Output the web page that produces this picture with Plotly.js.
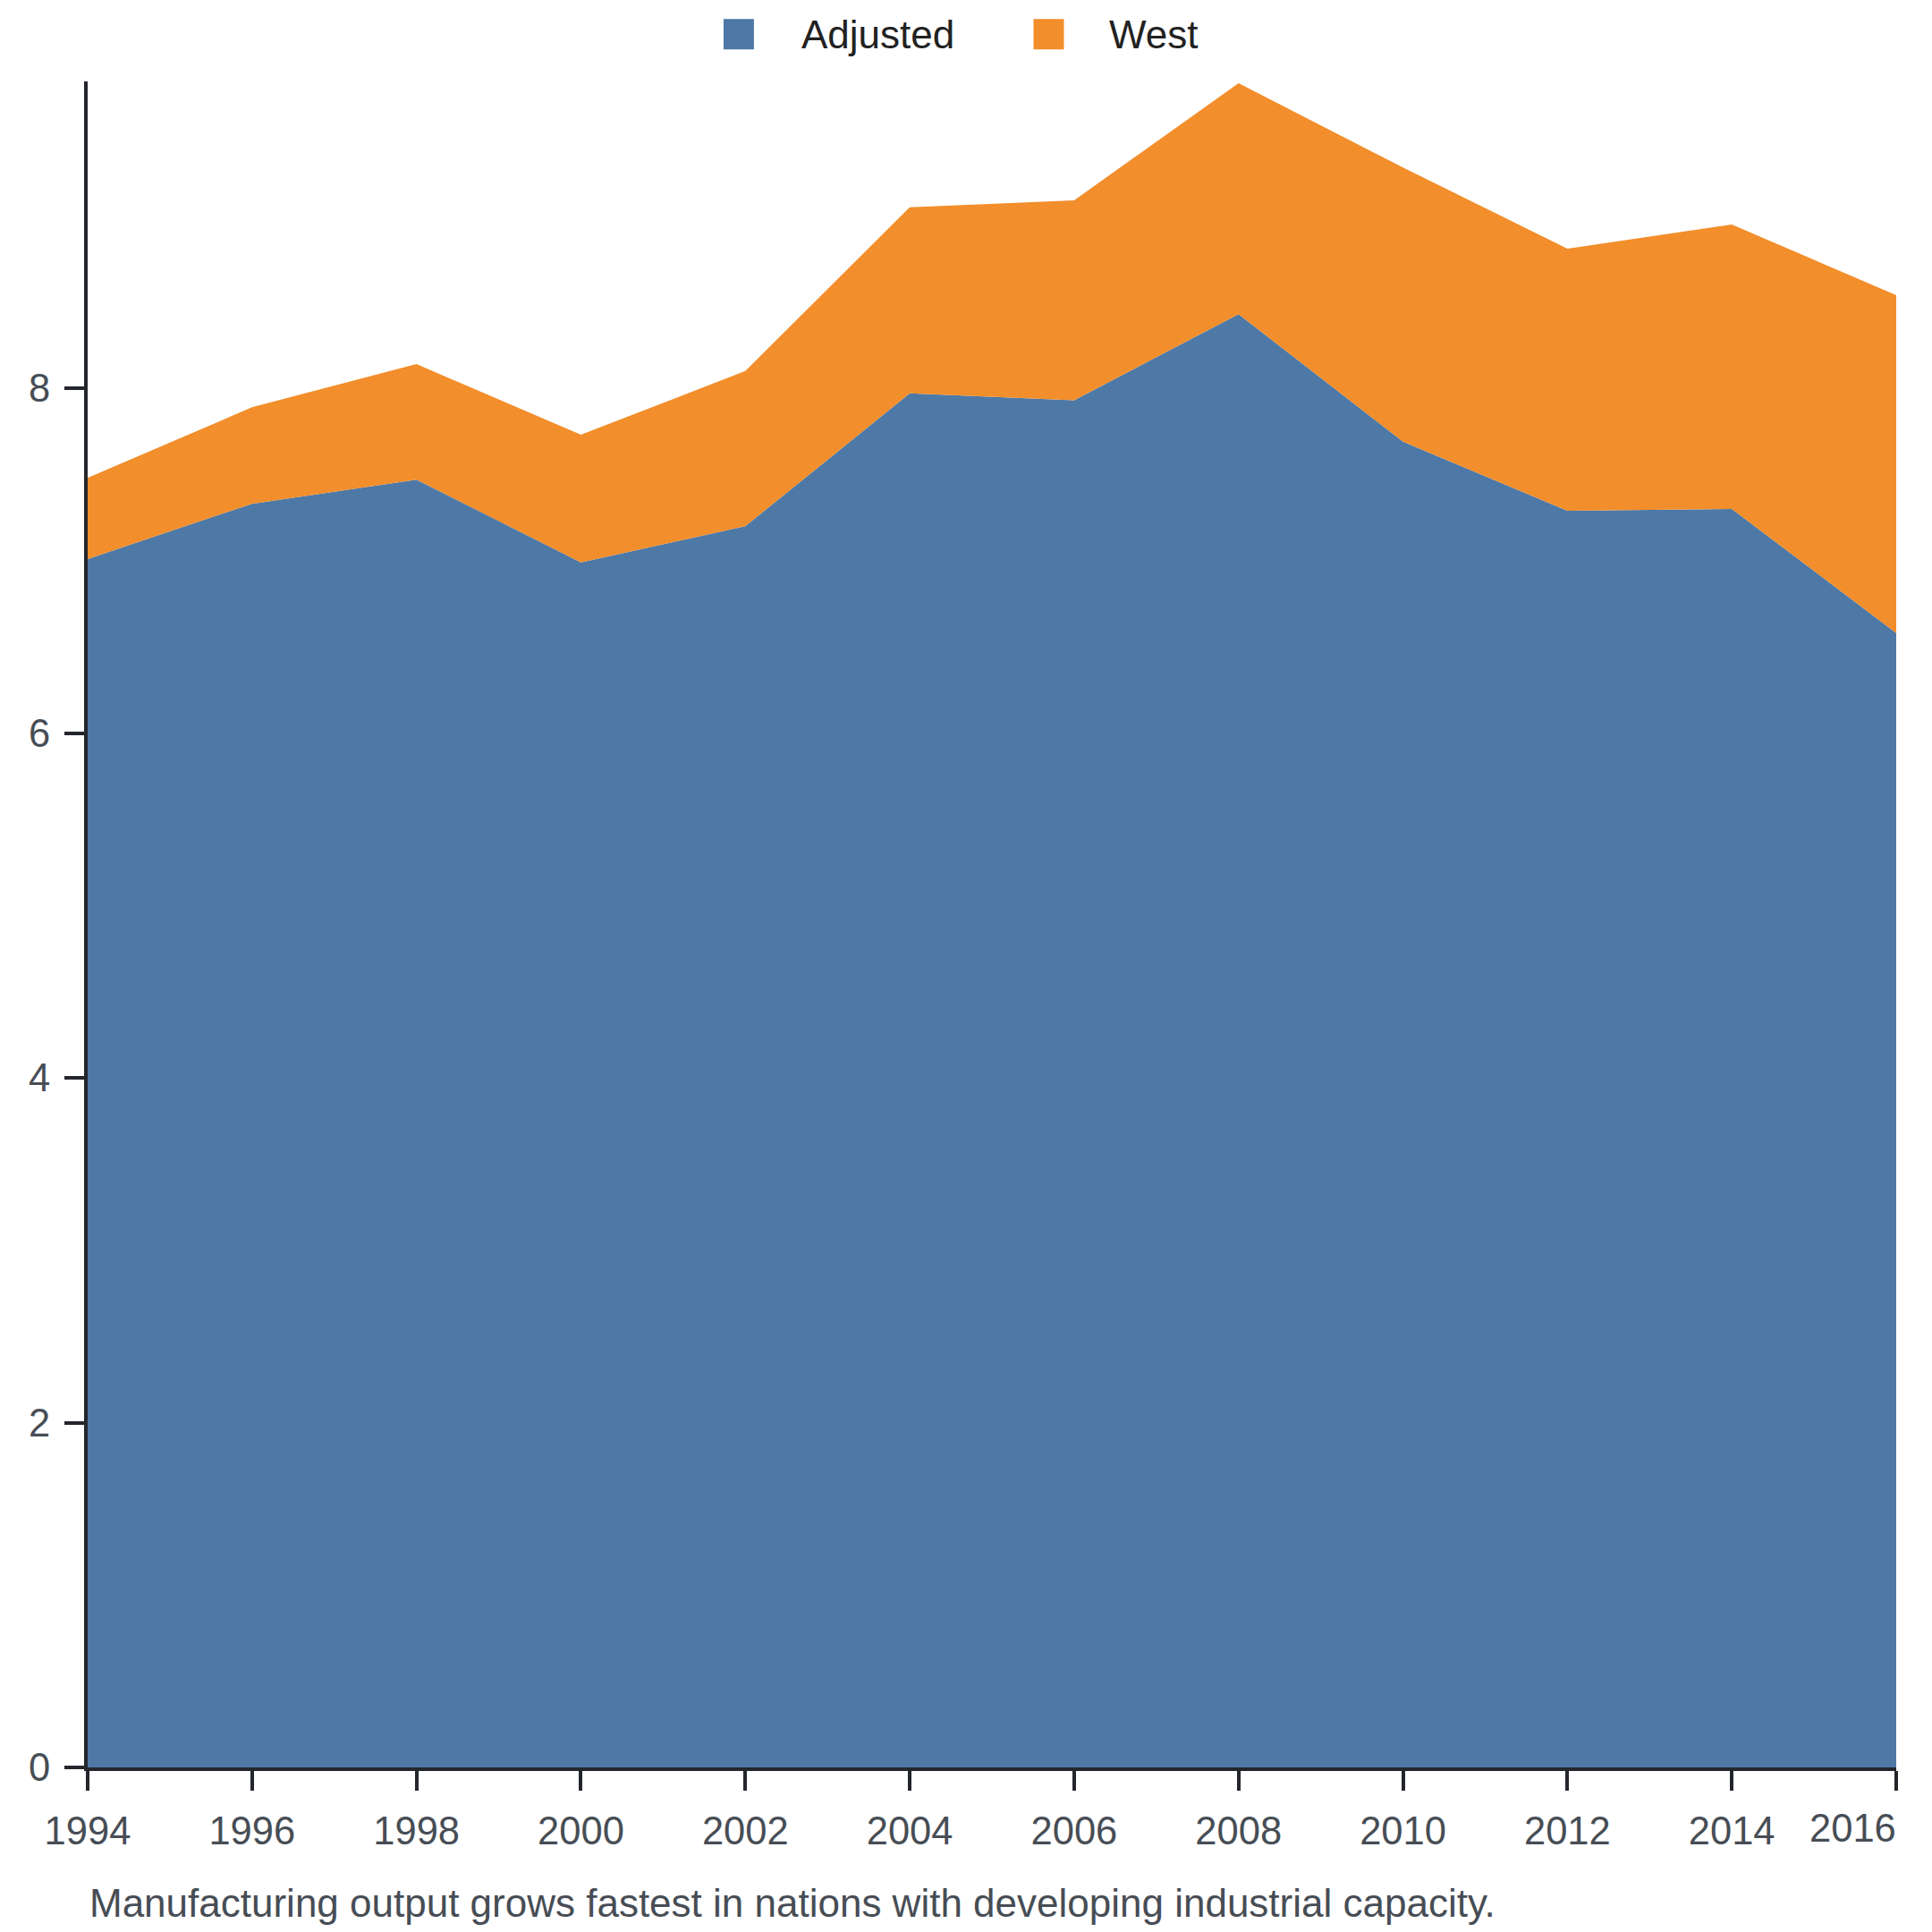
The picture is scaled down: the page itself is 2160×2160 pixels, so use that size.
<!DOCTYPE html>
<html>
<head>
<meta charset="utf-8">
<script src="https://cdn.plot.ly/plotly-3.0.1.min.js"></script>
<style>
  html, body { margin: 0; padding: 0; background: #fff; }
  #chart { width: 2160px; height: 2160px; }
</style>
</head>
<body>
<div id="chart"></div>
<script>
const years = [1994, 1996, 1998, 2000, 2002, 2004, 2006, 2008, 2010, 2012, 2014, 2016];
const adjusted = [7.01, 7.33, 7.47, 6.99, 7.20, 7.97, 7.93, 8.43, 7.69, 7.29, 7.30, 6.58];
const west = [0.47, 0.56, 0.67, 0.74, 0.90, 1.08, 1.16, 1.34, 1.59, 1.52, 1.65, 1.96];
const seriesNames = ['Adjusted', 'West'];
const seriesColors = ['#4e79a7', '#f28e2b'];
const xTicks = [1994, 1996, 1998, 2000, 2002, 2004, 2006, 2008, 2010, 2012, 2014, 2016];
const yTicks = [0, 2, 4, 6, 8];
const caption = 'Manufacturing output grows fastest in nations with developing industrial capacity.';

const FONT = 'Liberation Sans, Arial, sans-serif';
const TICK_SIZE = 43.5;
const lastYear = xTicks[xTicks.length - 1];

const traces = [adjusted, west].map((vals, i) => ({
    x: years,
    y: vals,
    name: seriesNames[i],
    type: 'scatter',
    mode: 'lines',
    stackgroup: 'one',
    line: { width: 0, color: seriesColors[i] },
    fillcolor: seriesColors[i],
    showlegend: false,
    hoverinfo: 'x+y+name'
}));

// legend swatches + labels drawn by hand (square swatches)
const legendItems = [
    { swatch: 0.360, label: 0.3937 },
    { swatch: 0.5314, label: 0.5638 }
];
const shapes = legendItems.map((it, i) => ({
    type: 'rect',
    xref: 'paper', yref: 'paper',
    xsizemode: 'pixel', ysizemode: 'pixel',
    xanchor: it.swatch, yanchor: 1.028,
    x0: -17, x1: 17, y0: -17, y1: 17,
    fillcolor: seriesColors[i],
    line: { width: 0 }
}));

const annotations = legendItems.map((it, i) => ({
    text: seriesNames[i],
    xref: 'paper', yref: 'paper',
    x: it.label, y: 1.028,
    xanchor: 'left', yanchor: 'middle',
    showarrow: false,
    font: { family: FONT, size: 44, color: '#222222' }
}));

// last tick label sits flush with the right edge
annotations.push({
    text: String(lastYear),
    xref: 'x', yref: 'paper',
    x: lastYear, y: 0,
    xanchor: 'right', yanchor: 'top',
    xshift: 2,
    yshift: -42,
    showarrow: false,
    font: { family: FONT, size: TICK_SIZE, color: '#474d55' }
});

annotations.push({
    text: caption,
    xref: 'paper', yref: 'paper',
    x: 0, y: -0.0806,
    xanchor: 'left', yanchor: 'middle',
    showarrow: false,
    font: { family: FONT, size: 44, color: '#474d55' }
});

const axisStyle = {
    showgrid: false,
    zeroline: false,
    showline: true,
    linecolor: '#23262b',
    linewidth: 4,
    ticks: 'outside',
    ticklen: 22,
    tickwidth: 4,
    tickcolor: '#23262b',
    tickfont: { family: FONT, size: TICK_SIZE, color: '#474d55' }
};

const layout = {
    width: 2160,
    height: 2160,
    margin: { l: 98, r: 40, t: 91, b: 184 },
    paper_bgcolor: '#ffffff',
    plot_bgcolor: '#ffffff',
    showlegend: false,
    font: { family: FONT, size: TICK_SIZE, color: '#474d55' },
    xaxis: Object.assign({}, axisStyle, {
        range: [1994, 2016],
        tickvals: xTicks,
        ticktext: xTicks.map(v => v === lastYear ? '' : String(v)),
        ticklabelstandoff: 8
    }),
    yaxis: Object.assign({}, axisStyle, {
        range: [0, 9.78],
        tickvals: yTicks,
        ticklabelstandoff: 7
    }),
    shapes: shapes,
    annotations: annotations
};

Plotly.newPlot('chart', traces, layout, { displayModeBar: false, staticPlot: true });
</script>
</body>
</html>
